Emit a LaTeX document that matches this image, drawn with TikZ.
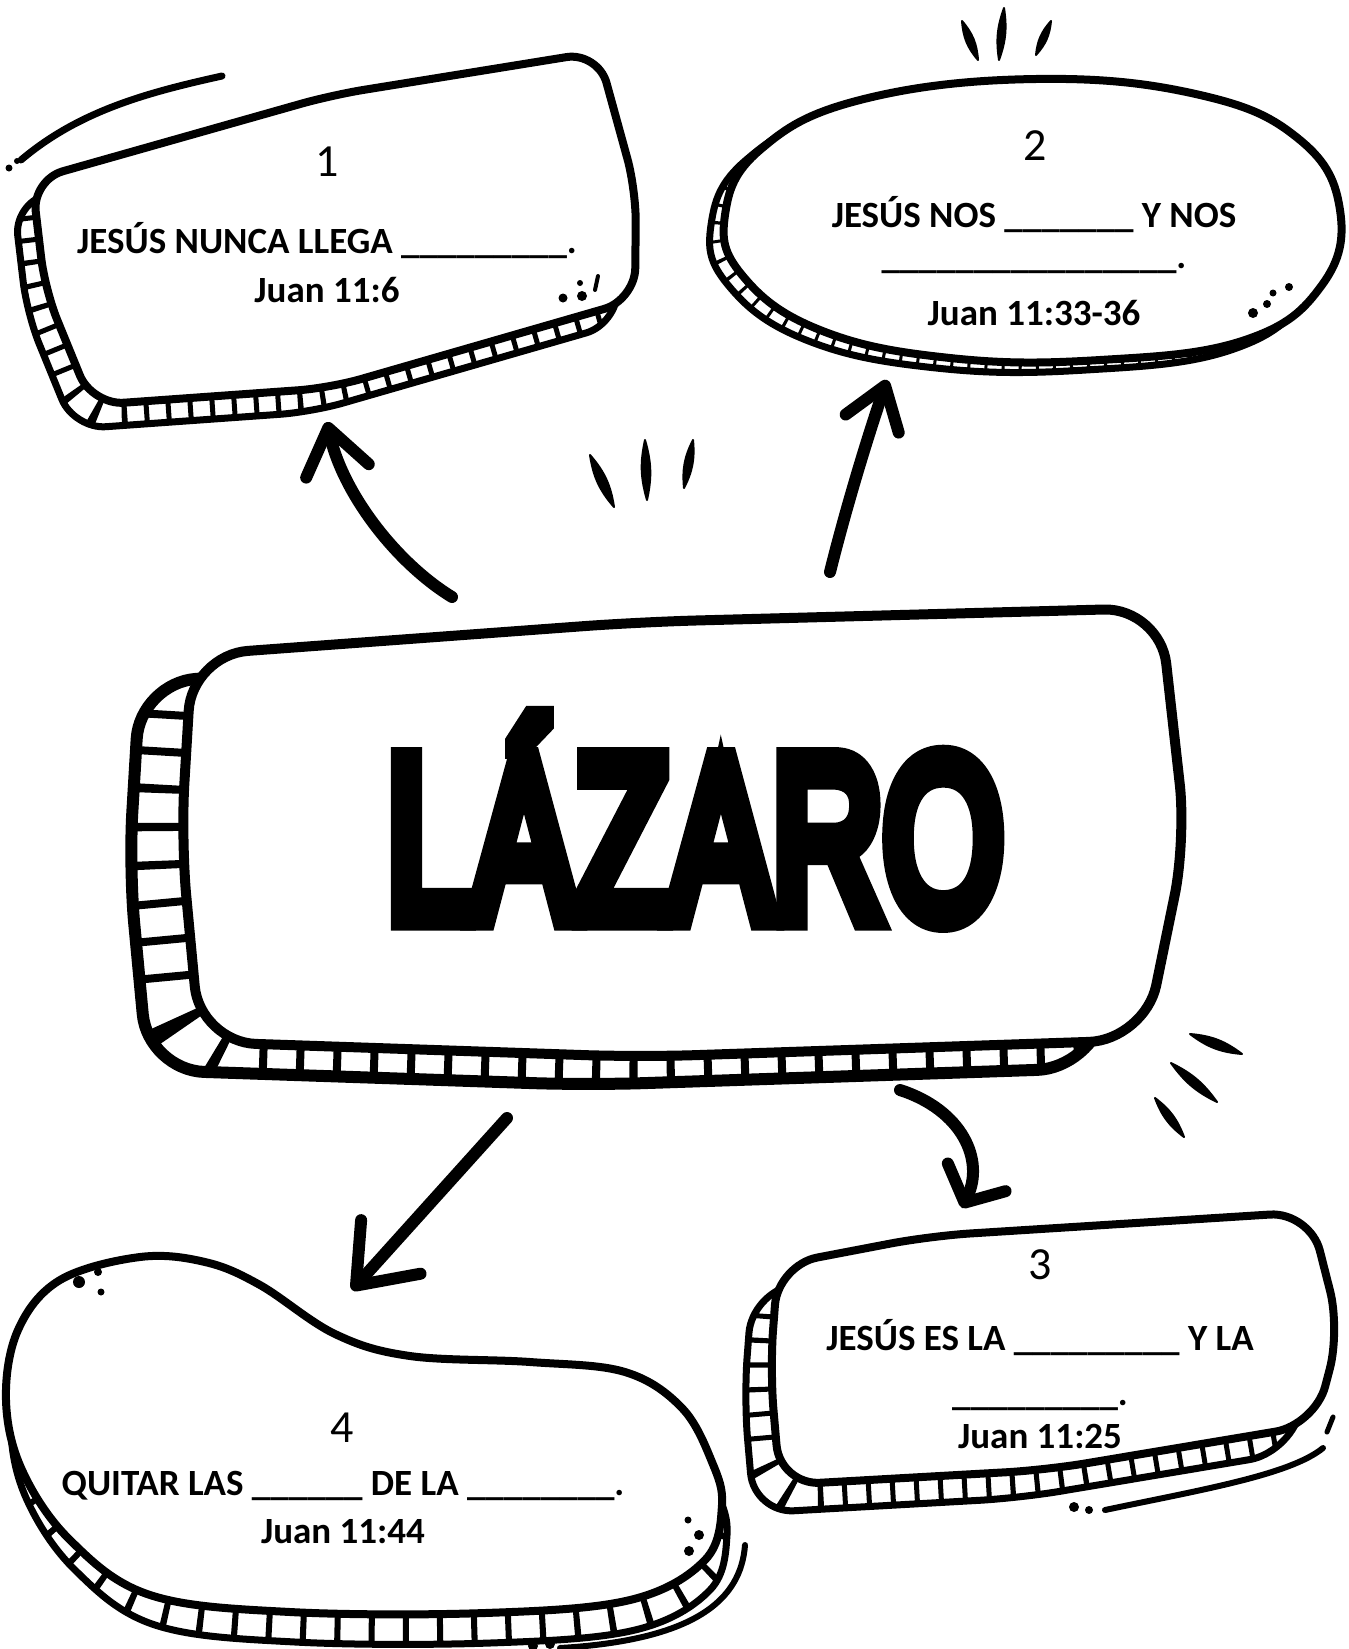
\documentclass[tikz,border=0pt]{standalone}
\usepackage{fontspec}
\setmainfont{Carlito}
\newfontfamily\lazfont{Liberation Sans}[FakeBold=11]
\usetikzlibrary{arrows.meta}

\tikzset{
  frame/.style={draw, line width=4pt, fill=white, line join=round},
  rim/.style={draw, line width=3.5pt, fill=white, line join=round},
  rungs/.style 2 args={draw, line width=#1, dash pattern=on 2.5pt off #2},
  num/.style={anchor=base, font=\fontsize{23}{23}\selectfont},
  ask/.style={anchor=base, font=\bfseries\fontsize{18.5}{18.5}\selectfont},
  pen/.style={line width=#1, line cap=round, line join=round},
  flick/.style={fill, draw, line width=1pt, line join=round},
  link/.style 2 args={line width=6pt, line cap=round, -{Straight Barb[length=#1, width=#2, round]}},
  boxone/.style={insert path={(332,95) -- (598,52) -- (636,190) -- (635,300) -- (330,388) -- (92,405) -- (45,290) -- (32,180) -- cycle}},
  boxtwo/.style={insert path={plot[smooth cycle, tension=0.7] coordinates {(1036,79) (1200,95) (1300,140) (1340,210) (1322,285) (1245,340) (1100,360) (950,358) (820,330) (742,275) (725,215) (760,150) (860,100)}}},
  boxmain/.style={insert path={(640,622) -- (1160,608) -- (1186,840) -- (1145,1040) -- (640,1057) -- (200,1042) -- (181,840) -- (192,655) -- cycle}},
  boxthree/.style={insert path={(930,1236) -- (1310,1212) -- (1340,1330) -- (1315,1425) -- (1046,1470) -- (780,1485) -- (770,1370) -- (778,1265) -- cycle}},
  boxfour/.style={insert path={plot[smooth cycle, tension=0.6] coordinates {(140,1257) (205,1262) (260,1285) (335,1334) (410,1356) (530,1362) (625,1372) (682,1408) (712,1462) (722,1505) (705,1560) (630,1600) (485,1613) (290,1612) (150,1595) (70,1540) (22,1470) (6,1400) (18,1330) (60,1280)}}}
}

\begin{document}
\begin{tikzpicture}[x=0.5pt, y=-0.5pt]
\fill[white] (0,0) rectangle (1349,1649);
\useasboundingbox (0,0) rectangle (1349,1649);

% box 1
\draw[rim, shift={(-18,24)}, rounded corners=16pt, boxone];
\begin{scope}
  \clip[shift={(-18,24)}, rounded corners=16pt, boxone];
  \draw[rungs={30pt}{8.5pt}, rounded corners=16pt, boxone];
\end{scope}
\draw[frame, rounded corners=16pt, boxone];
\draw[pen=3.5pt] (21,160) .. controls (80,110) and (150,92) .. (222,76);
\fill (9,168) circle [radius=3.5] (17,161) circle [radius=3];
\fill (563,298) circle [radius=4.5] (582,296) circle [radius=5] (580,283) circle [radius=3];
\draw[pen=2pt] (598,276) -- (595,290);

% box 2
\draw[rim, shift={(-14,10)}, boxtwo];
\begin{scope}
  \clip[shift={(-14,10)}, boxtwo];
  \draw[draw, line width=16pt, dash pattern=on 1.5pt off 7pt, boxtwo];
\end{scope}
\draw[frame, boxtwo];
\fill (1253,313) circle [radius=5] (1267,304) circle [radius=4] (1273,293) circle [radius=3.5] (1289,287) circle [radius=4];
\filldraw[flick] (962,21) to[bend left=18] (978,60) to[bend left=18] cycle;
\filldraw[flick] (1004,8) to[bend left=14] (999,60) to[bend left=14] cycle;
\filldraw[flick] (1051,21) to[bend left=18] (1036,55) to[bend left=18] cycle;

% central box
\draw[rim, line width=6pt, shift={(-52,28)}, rounded corners=28pt, boxmain];
\begin{scope}
  \clip[shift={(-52,28)}, rounded corners=28pt, boxmain];
  \draw[draw, line width=65pt, dash pattern=on 4pt off 14.5pt, rounded corners=28pt, boxmain];
\end{scope}
\draw[frame, line width=5pt, rounded corners=28pt, boxmain];
\filldraw[flick] (590,455) to[bend left=16] (614,507) to[bend left=16] cycle;
\filldraw[flick] (645,440) to[bend left=14] (647,500) to[bend left=14] cycle;
\filldraw[flick] (693,440) to[bend left=16] (684,488) to[bend left=16] cycle;
\filldraw[flick] (1190,1034) to[bend left=16] (1242,1054) to[bend left=16] cycle;
\filldraw[flick] (1171,1063) to[bend left=14] (1217,1102) to[bend left=14] cycle;
\filldraw[flick] (1155,1098) to[bend left=16] (1184,1137) to[bend left=16] cycle;

% box 3
\draw[rim, shift={(-26,28)}, rounded corners=20pt, boxthree];
\begin{scope}
  \clip[shift={(-26,28)}, rounded corners=20pt, boxthree];
  \draw[rungs={35pt}{9.5pt}, rounded corners=20pt, boxthree];
\end{scope}
\draw[frame, rounded corners=20pt, boxthree];
\fill (1074,1507) circle [radius=5] (1089,1510) circle [radius=4];
\draw[pen=3pt] (1105,1510) .. controls (1200,1490) and (1290,1475) .. (1323,1448);
\draw[pen=2.5pt] (1333,1417) -- (1327,1432);

% box 4
\draw[rim, shift={(5,30)}, boxfour];
\begin{scope}
  \clip[shift={(5,30)}, boxfour];
  \draw[draw, line width=35pt, dash pattern=on 3pt off 14pt, boxfour];
\end{scope}
\draw[frame, boxfour];
\fill (79,1282) circle [radius=6] (98,1272) circle [radius=4] (101,1292) circle [radius=3.5];
\fill (688,1520) circle [radius=3.5] (699,1535) circle [radius=5] (689,1551) circle [radius=5];
\fill (533,1646) circle [radius=5] (550,1644) circle [radius=5];
\draw[pen=3pt] (745,1545) .. controls (741,1600) and (695,1640) .. (560,1648);

% texts
\node (title) [anchor=base, font=\lazfont\fontsize{115}{115}\selectfont] at (695,918) {\scalebox{0.67}[1]{LÁZARO}};

\node (n1) [num] at (327,176) {1};
\node (q1) [ask] at (327,253) {JESÚS NUNCA LLEGA \_\_\_\_\_\_\_\_\_.};
\node (r1) [ask] at (327,302) {Juan 11:6};

\node (n2) [num] at (1035,160) {2};
\node (q2) [ask] at (1034,227) {JESÚS NOS \_\_\_\_\_\_\_ Y NOS};
\node (q2b) [ask] at (1034,268) {\_\_\_\_\_\_\_\_\_\_\_\_\_\_\_\_.};
\node (r2) [ask] at (1034,325) {Juan 11:33-36};

\node (n3) [num] at (1040,1279) {3};
\node (q3) [ask] at (1040,1350) {JESÚS ES LA \_\_\_\_\_\_\_\_\_ Y LA};
\node (q3b) [ask] at (1040,1405) {\_\_\_\_\_\_\_\_\_.};
\node (r3) [ask] at (1040,1448) {Juan 11:25};

\node (n4) [num] at (342,1442) {4};
\node (q4) [ask] at (343,1495) {QUITAR LAS \_\_\_\_\_\_ DE LA \_\_\_\_\_\_\_\_.};
\node (r4) [ask] at (343,1543) {Juan 11:44};

% arrows
\coordinate (a1s) at (452,597);
\coordinate (a1e) at (327,422);
\coordinate (a2s) at (830,572);
\coordinate (a2e) at (887,380);
\coordinate (a3s) at (900,1090);
\coordinate (a3e) at (962,1208);
\coordinate (a4s) at (507,1118);
\coordinate (a4e) at (352,1290);
\draw[link={22pt}{32pt}] (a1s) .. controls (395,562) and (342,492) .. (a1e);
\draw[link={20pt}{28pt}] (a2s) .. controls (848,500) and (870,430) .. (a2e);
\draw[link={14pt}{32pt}] (a3s) .. controls (962,1110) and (985,1160) .. (a3e);
\draw[link={26pt}{40pt}] (a4s) -- (a4e);
\end{tikzpicture}
\end{document}
